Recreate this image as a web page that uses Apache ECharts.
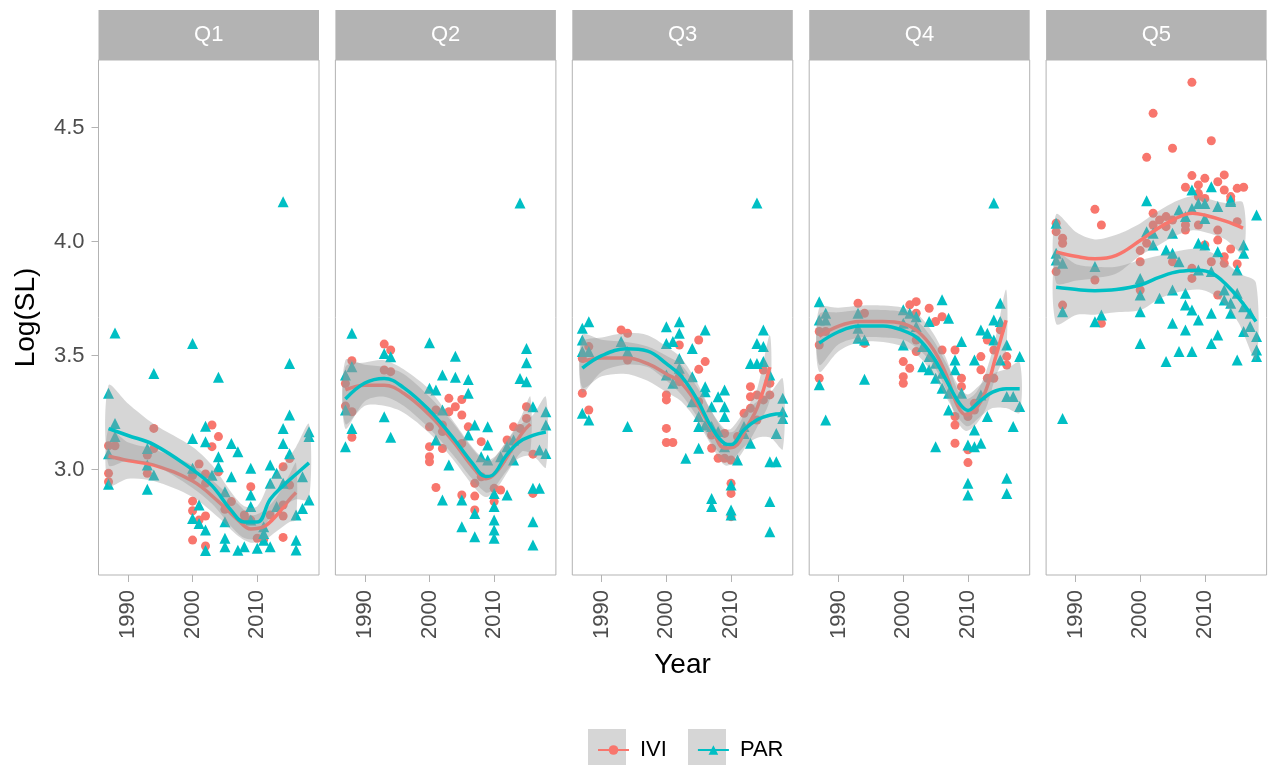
<!DOCTYPE html>
<html>
<head>
<meta charset="utf-8">
<title>Log(SL) by Year</title>
<script src="https://cdn.jsdelivr.net/npm/echarts@6.0.0/dist/echarts.min.js"></script>
<style>
  html, body { margin: 0; padding: 0; background: #fff; }
  #chart { width: 1270px; height: 765px; }
</style>
</head>
<body>
<div id="chart"></div>
<script>
const panels = ['Q1', 'Q2', 'Q3', 'Q4', 'Q5'];
const xTicks = [1990, 2000, 2010];
const yTicks = [3.0, 3.5, 4.0, 4.5];

// observed points: [year, Log(SL)]
const iviQ1 = [[1987,3.105],[1988,3.105],[1987,2.984],[1987,2.947],[1994,3.181],[1994,3.093],[1993,3.064],[1993,2.984],
  [2003,3.196],[2004,3.145],[2003,3.101],[2001,3.025],[2000,2.974],[2002,2.981],[2002,2.94],[2004,2.991],
  [2000,2.862],[2000,2.82],[2002,2.797],[2001,2.779],[2000,2.691],[2002,2.665],[2006,2.86],[2005,2.826],
  [2008,2.801],[2009,2.925],[2010,2.699],[2011,2.694],[2012,2.801],[2014,3.013],[2015,3.049],[2015,2.933],
  [2014,2.845],[2014,2.797],[2014,2.703],[2009,2.779],[2008,2.779]];
const parQ1 = [[1988,3.60],[1987,3.335],[1988,3.203],[1988,3.145],[1987,3.07],[1987,2.936],[1994,3.422],[1993,3.093],
  [1993,3.02],[1994,2.977],[1993,2.914],[2000,3.554],[2004,3.405],[2002,3.191],[2002,3.123],[2000,3.137],[2000,3.006],
  [2004,3.057],[2004,3.013],[2003,2.976],[2006,3.115],[2007,3.079],[2006,2.969],[2001,2.845],[2000,2.786],[2001,2.764],
  [2002,2.735],[2005,2.903],[2005,2.772],[2005,2.699],[2005,2.662],[2002,2.645],[2007,2.647],[2008,2.662],[2009,3.006],
  [2009,2.889],[2009,2.838],[2009,2.779],[2010,2.655],[2011,2.72],[2011,2.75],[2012,3.02],[2012,2.94],[2013,2.984],
  [2013,2.838],[2012,2.662],[2014,3.181],[2014,3.115],[2015,3.24],[2015,3.466],[2015,3.07],[2016,2.801],[2016,2.69],
  [2016,2.648],[2017,2.969],[2017,2.83],[2018,3.166],[2018,3.145],[2018,2.867],[2014,2.94],[2014,4.175],[2011,2.69]];

const iviQ2 = [[1988,3.478],[1987,3.378],[1987,3.279],[1988,3.254],[1988,3.142],[1993,3.551],[1994,3.525],[1993,3.437],
  [1994,3.43],[2003,3.313],[2005,3.308],[2004,3.276],[2001,3.262],[2003,3.254],[2005,3.24],[2000,3.188],[2002,3.196],
  [2002,3.167],[2000,3.101],[2000,3.057],[2000,3.035],[2002,3.093],[2001,2.922],[2006,3.188],[2005,3.115],[2008,3.123],
  [2007,2.94],[2008,2.969],[2005,2.889],[2007,2.884],[2007,2.823],[2010,2.918],[2011,2.911],[2010,2.86],[2013,3.188],
  [2014,3.181],[2015,3.276],[2015,3.225],[2016,3.068],[2016,2.896],[2012,3.13]];
const parQ2 = [[1988,3.598],[1987,3.415],[1988,3.452],[1987,3.262],[1987,3.101],[1988,3.181],[1993,3.51],[1994,3.495],
  [1993,3.232],[1994,3.142],[2000,3.557],[2000,3.357],[2002,3.415],[2004,3.498],[2004,3.405],[2006,3.396],[2006,3.335],
  [2001,3.349],[2002,3.262],[2001,3.13],[2003,3.02],[2002,2.867],[2005,2.867],[2005,2.75],[2007,3.196],[2009,3.188],
  [2006,3.152],[2007,2.808],[2007,2.706],[2009,3.108],[2008,3.057],[2009,3.042],[2010,2.896],[2010,2.838],[2010,2.779],
  [2010,2.735],[2010,2.699],[2012,2.889],[2011,3.057],[2013,3.13],[2015,3.532],[2015,3.469],[2014,3.4],[2015,3.386],
  [2016,3.276],[2018,3.254],[2018,3.196],[2017,3.086],[2018,3.071],[2016,2.918],[2017,2.918],[2016,2.772],[2016,2.67],
  [2013,3.042],[2012,3.101],[2014,4.17]];

const iviQ3 = [[1987,3.488],[1988,3.54],[1987,3.335],[1988,3.262],[1993,3.613],[1994,3.598],[1994,3.481],[2002,3.547],
  [2000,3.328],[2000,3.306],[2000,3.181],[2000,3.119],[2001,3.119],[2002,3.386],[2002,3.408],[2005,3.569],[2006,3.474],
  [2005,3.44],[2005,3.298],[2007,3.152],[2007,3.094],[2009,3.159],[2008,3.05],[2009,3.05],[2010,3.042],[2010,2.94],
  [2010,2.896],[2010,2.794],[2011,3.145],[2012,3.247],[2013,3.364],[2013,3.32],[2014,3.328],[2015,3.437],[2015,3.306],
  [2016,3.379],[2016,3.328],[2013,3.269],[2014,3.218]];
const parQ3 = [[1988,3.649],[1987,3.62],[1987,3.569],[1987,3.518],[1988,3.518],[1987,3.247],[1988,3.218],[1993,3.562],
  [1994,3.518],[1994,3.189],[2000,3.627],[2002,3.649],[2002,3.598],[2000,3.554],[2001,3.562],[2002,3.488],[2004,3.532],
  [2006,3.613],[2000,3.415],[2001,3.379],[2002,3.445],[2004,3.408],[2006,3.364],[2006,3.342],[2008,3.32],[2009,3.35],
  [2007,3.276],[2009,3.276],[2004,3.298],[2005,3.233],[2005,3.189],[2006,3.196],[2009,3.233],[2008,3.167],[2007,3.189],
  [2005,3.094],[2003,3.05],[2009,3.101],[2011,3.042],[2012,3.159],[2007,2.874],[2007,2.838],[2010,2.933],[2010,2.823],
  [2010,2.801],[2014,3.554],[2015,3.613],[2015,3.54],[2013,3.466],[2014,3.466],[2015,3.474],[2016,3.415],[2018,3.313],
  [2018,3.254],[2018,3.225],[2017,3.159],[2016,3.035],[2017,3.035],[2016,2.86],[2016,2.728],[2014,4.17],[2013,3.116],
  [2012,3.189]];

const iviQ4 = [[1987,3.606],[1988,3.606],[1987,3.547],[1987,3.401],[1993,3.73],[1994,3.686],[1994,3.554],[2001,3.723],
  [2002,3.737],[2002,3.686],[2004,3.708],[2005,3.65],[2006,3.671],[2000,3.474],[2001,3.445],[2000,3.408],[2000,3.379],
  [2002,3.518],[2002,3.569],[2006,3.525],[2008,3.525],[2009,3.401],[2009,3.364],[2008,3.233],[2008,3.196],[2008,3.116],
  [2010,3.087],[2010,3.031],[2011,3.291],[2012,3.496],[2012,3.438],[2013,3.569],[2014,3.525],[2015,3.613],[2016,3.496],
  [2016,3.459],[2013,3.401],[2014,3.401],[2011,3.262],[2010,3.233]];
const parQ4 = [[1987,3.737],[1988,3.686],[1987,3.657],[1988,3.657],[1987,3.372],[1988,3.218],[1993,3.686],[1993,3.62],
  [1993,3.576],[1994,3.569],[1994,3.397],[2000,3.701],[2001,3.686],[2002,3.671],[2000,3.642],[2002,3.628],[2000,3.547],
  [2004,3.65],[2006,3.745],[2007,3.664],[2003,3.54],[2004,3.496],[2005,3.467],[2006,3.423],[2003,3.452],[2004,3.438],
  [2005,3.401],[2006,3.357],[2008,3.481],[2009,3.562],[2008,3.438],[2007,3.335],[2009,3.335],[2007,3.262],[2005,3.101],
  [2010,3.108],[2010,2.94],[2010,2.889],[2011,3.174],[2012,3.116],[2011,3.101],[2013,3.233],[2011,3.481],[2012,3.613],
  [2013,3.598],[2014,3.657],[2015,3.73],[2015,3.65],[2014,3.569],[2015,3.481],[2016,3.547],[2018,3.496],[2017,3.321],
  [2016,3.321],[2018,3.277],[2017,3.189],[2012,3.328],[2016,2.962],[2016,2.896],[2014,4.17]];

const iviQ5 = [[2008,4.699],[2002,4.563],[2011,4.443],[2005,4.41],[2001,4.37],[1993,4.142],[1994,4.073],[1987,4.081],
  [1987,4.044],[1988,4.015],[1988,3.993],[1987,3.869],[1988,3.722],[1993,3.832],[1994,3.642],[2002,4.125],[2003,4.095],
  [2004,4.11],[2005,4.095],[2004,4.066],[2002,4.073],[2001,3.993],[2000,3.961],[2000,3.912],[2000,3.788],[2005,3.912],
  [2007,4.239],[2008,4.29],[2009,4.249],[2010,4.278],[2009,4.212],[2010,4.19],[2012,4.263],[2013,4.293],[2013,4.227],
  [2014,4.198],[2015,4.234],[2016,4.239],[2007,4.051],[2009,4.073],[2012,4.051],[2012,4.007],[2010,3.986],[2014,3.968],
  [2013,3.934],[2013,3.905],[2011,3.912],[2008,3.883],[2008,3.839],[2015,3.902],[2015,4.088],[2012,3.766],[2007,4.073],
  [2009,4.198],[2014,4.183]];
const parQ5 = [[1987,4.081],[1987,3.949],[1987,3.92],[1988,3.905],[1988,3.693],[1988,3.225],[1993,3.891],[1993,3.649],
  [1994,3.678],[2001,4.18],[2001,4.044],[2002,4.037],[2002,3.986],[2000,3.839],[2000,3.766],[2000,3.693],[2000,3.554],
  [2003,3.752],[2004,3.964],[2005,4.037],[2005,3.949],[2006,4.139],[2006,3.912],[2007,4.11],[2008,4.227],[2008,4.146],
  [2009,4.168],[2010,4.168],[2010,4.102],[2011,4.241],[2012,4.154],[2014,4.183],[2009,3.993],[2010,3.986],[2012,3.956],
  [2009,3.876],[2011,3.869],[2007,3.774],[2007,3.722],[2008,3.7],[2005,3.788],[2005,3.642],[2006,3.518],[2008,3.518],
  [2007,3.613],[2004,3.474],[2009,3.657],[2011,3.686],[2012,3.591],[2011,3.554],[2013,3.788],[2013,3.744],[2014,3.73],
  [2014,3.686],[2015,3.774],[2016,3.715],[2016,3.606],[2017,3.628],[2017,3.686],[2018,3.584],[2018,3.525],[2018,3.496],
  [2015,3.481],[2018,4.117],[2016,3.986],[2016,3.949],[2015,3.876],[2014,4.176]];

// smoothed fits: [year, fit, lower, upper]
const iviFitQ1 = [[1987,3.06,2.93,3.18],[1990,3.04,2.96,3.12],[1994,3.02,2.95,3.09],[2000,2.95,2.88,3.02],[2004,2.86,2.79,2.93],
  [2007,2.78,2.71,2.85],[2009,2.74,2.68,2.80],[2011,2.75,2.69,2.82],[2013,2.80,2.73,2.88],[2015,2.87,2.77,2.98],[2016,2.90,2.78,3.03]];
const parFitQ1 = [[1987,3.18,3.02,3.37],[1990,3.15,3.04,3.29],[1994,3.11,3.02,3.20],[2000,3.00,2.92,3.10],[2003,2.93,2.85,3.02],
  [2006,2.82,2.75,2.90],[2008,2.77,2.70,2.84],[2010,2.77,2.70,2.84],[2012,2.87,2.79,2.95],[2014,2.93,2.84,3.02],[2016,2.98,2.87,3.10],[2018,3.03,2.87,3.20]];

const iviFitQ2 = [[1987,3.35,3.20,3.48],[1990,3.37,3.28,3.46],[1993,3.37,3.28,3.45],[1996,3.335,3.25,3.42],[2000,3.24,3.16,3.32],
  [2003.5,3.13,3.05,3.21],[2007,3.0,2.92,3.08],[2008.7,2.96,2.88,3.04],[2010.2,2.985,2.91,3.06],[2012.3,3.07,3.0,3.14],
  [2014.3,3.16,3.08,3.24],[2015.6,3.20,3.08,3.32]];
const parFitQ2 = [[1987,3.31,3.18,3.45],[1990,3.38,3.30,3.47],[1993,3.40,3.32,3.48],[1996,3.36,3.28,3.44],[2000,3.26,3.18,3.35],
  [2003.5,3.145,3.07,3.22],[2006.6,3.03,2.96,3.10],[2008.7,2.97,2.90,3.04],[2009.7,2.975,2.91,3.04],[2011.8,3.06,2.99,3.12],
  [2013.8,3.12,3.05,3.19],[2016,3.15,3.06,3.24],[2018,3.165,3.01,3.32]];

const iviFitQ3 = [[1987,3.475,3.36,3.59],[1990,3.49,3.41,3.57],[1993.8,3.49,3.42,3.56],[1997.1,3.465,3.39,3.54],[2000,3.42,3.34,3.50],
  [2002.3,3.38,3.30,3.46],[2004.8,3.285,3.21,3.36],[2007.1,3.175,3.10,3.25],[2009,3.095,3.02,3.17],[2010.5,3.10,3.03,3.17],
  [2012.5,3.19,3.11,3.27],[2014.1,3.275,3.19,3.36],[2016,3.45,3.31,3.59]];
const parFitQ3 = [[1987,3.445,3.34,3.56],[1990,3.50,3.43,3.58],[1993.8,3.53,3.46,3.60],[1997.1,3.52,3.45,3.59],[2000,3.465,3.39,3.54],
  [2002.3,3.41,3.33,3.49],[2004.8,3.305,3.23,3.38],[2006.9,3.19,3.12,3.26],[2009,3.115,3.05,3.18],[2010,3.11,3.04,3.18],
  [2012,3.175,3.10,3.25],[2014.1,3.22,3.14,3.30],[2016.1,3.24,3.14,3.34],[2018,3.245,3.09,3.40]];

const iviFitQ4 = [[1987,3.585,3.46,3.71],[1990,3.63,3.55,3.71],[1993.3,3.65,3.58,3.72],[1996.9,3.65,3.58,3.72],[2000,3.64,3.57,3.71],
  [2002.3,3.605,3.53,3.68],[2004.6,3.53,3.46,3.60],[2006.6,3.42,3.35,3.49],[2008.4,3.28,3.21,3.35],[2009.7,3.24,3.17,3.31],
  [2011.3,3.27,3.20,3.34],[2012.8,3.35,3.27,3.43],[2014.3,3.495,3.41,3.58],[2015.9,3.655,3.52,3.79]];
const parFitQ4 = [[1987,3.555,3.43,3.68],[1990,3.605,3.52,3.69],[1993.3,3.63,3.56,3.70],[1996.9,3.63,3.56,3.70],[2000,3.61,3.54,3.69],
  [2002.3,3.575,3.50,3.65],[2004.6,3.495,3.42,3.57],[2006.6,3.395,3.32,3.47],[2008.7,3.29,3.22,3.36],[2010,3.26,3.19,3.33],
  [2011.8,3.30,3.23,3.37],[2013.8,3.34,3.27,3.42],[2015.9,3.355,3.27,3.44],[2018,3.355,3.25,3.47]];

const iviFitQ5 = [[1987,3.955,3.82,4.12],[1990.2,3.935,3.83,4.04],[1993,3.925,3.84,4.01],[1996.3,3.94,3.86,4.03],[2000,4.005,3.94,4.08],
  [2002,4.045,3.97,4.12],[2005,4.095,4.02,4.17],[2008.1,4.125,4.05,4.20],[2010.2,4.115,4.04,4.19],[2013.2,4.09,4.01,4.17],[2015.9,4.06,3.95,4.17]];
const parFitQ5 = [[1987,3.80,3.64,3.95],[1990.2,3.79,3.68,3.90],[1993,3.785,3.68,3.89],[1996.3,3.79,3.69,3.89],[2000,3.81,3.70,3.92],
  [2003,3.845,3.75,3.94],[2006.1,3.87,3.78,3.96],[2009.1,3.875,3.79,3.97],[2011.2,3.86,3.77,3.95],[2013.2,3.815,3.72,3.91],
  [2015.3,3.75,3.64,3.86],[2017.9,3.65,3.48,3.82]];

const iviPoints = [iviQ1, iviQ2, iviQ3, iviQ4, iviQ5];
const parPoints = [parQ1, parQ2, parQ3, parQ4, parQ5];
const iviFits = [iviFitQ1, iviFitQ2, iviFitQ3, iviFitQ4, iviFitQ5];
const parFits = [parFitQ1, parFitQ2, parFitQ3, parFitQ4, parFitQ5];

const RED = '#F8766D';
const TEAL = '#00BFC4';
const BAND = 'rgba(153,153,153,0.4)';
const FONT = 'Liberation Sans, Arial, sans-serif';

const panelLeft = 98.5;
const panelStep = 236.9;
const panelWidth = 220.5;
const panelTop = 60;
const panelHeight = 515;

const myChart = echarts.init(document.getElementById('chart'));

const bandSeries = (rows, idx, name, z) => ({
  type: 'custom',
  name: name,
  xAxisIndex: idx,
  yAxisIndex: idx,
  z: z,
  silent: true,
  data: rows,
  renderItem: (params, api) => {
    if (params.dataIndex !== 0) return;
    const upper = rows.map((r) => api.coord([r[0], r[3]]));
    const lower = rows.map((r) => api.coord([r[0], r[2]])).reverse();
    return {
      type: 'polygon',
      shape: { points: upper.concat(lower), smooth: 0.3 },
      style: { fill: BAND },
    };
  },
});

const lineSeries = (rows, idx, name, color, symbol, z) => ({
  type: 'line',
  name: name,
  xAxisIndex: idx,
  yAxisIndex: idx,
  z: z,
  silent: true,
  smooth: 0.4,
  symbol: symbol,
  showSymbol: false,
  data: rows.map((r) => [r[0], r[1]]),
  lineStyle: { width: 3.5, color: color },
  itemStyle: { color: color },
});

const pointSeries = (rows, idx, name, color, symbol, size) => ({
  type: 'scatter',
  name: name,
  xAxisIndex: idx,
  yAxisIndex: idx,
  z: 2,
  silent: true,
  symbol: symbol,
  symbolSize: size,
  data: rows,
  itemStyle: { color: color, opacity: 1 },
});

const grids = [];
const xAxes = [];
const yAxes = [];
const series = [];
const graphics = [];

panels.forEach((p, i) => {
  const left = panelLeft + i * panelStep;
  grids.push({
    left: left,
    top: panelTop,
    width: panelWidth,
    height: panelHeight,
    show: true,
    backgroundColor: '#fff',
    borderColor: '#b3b3b3',
    borderWidth: 1,
  });
  xAxes.push({
    type: 'value',
    gridIndex: i,
    min: 1985.45,
    max: 2019.55,
    name: i === 2 ? 'Year' : '',
    nameLocation: 'middle',
    nameGap: 76,
    nameTextStyle: { fontSize: 28, color: '#000', fontFamily: FONT },
    splitLine: { show: false },
    axisLine: { show: false },
    axisTick: { show: true, length: 7, customValues: xTicks, lineStyle: { color: '#b3b3b3', width: 1 } },
    axisLabel: {
      customValues: xTicks,
      rotate: 90,
      margin: 15,
      fontSize: 22,
      color: '#4d4d4d',
      fontFamily: FONT,
      formatter: (v) => String(v),
    },
  });
  yAxes.push({
    type: 'value',
    gridIndex: i,
    min: 2.538,
    max: 4.797,
    name: i === 0 ? 'Log(SL)' : '',
    nameLocation: 'middle',
    nameGap: 58,
    nameRotate: 90,
    nameTextStyle: { fontSize: 28, color: '#000', fontFamily: FONT },
    splitLine: { show: false },
    axisLine: { show: false },
    axisTick: { show: i === 0, length: 7, customValues: yTicks, lineStyle: { color: '#b3b3b3', width: 1 } },
    axisLabel: {
      show: i === 0,
      customValues: yTicks,
      margin: 14,
      fontSize: 22,
      color: '#4d4d4d',
      fontFamily: FONT,
      formatter: (v) => v.toFixed(1),
    },
  });

  series.push(lineSeries(iviFits[i], i, 'IVI', RED, 'circle', 4));
  series.push(lineSeries(parFits[i], i, 'PAR', TEAL, 'triangle', 6));
  series.push(pointSeries(iviPoints[i], i, 'IVI', RED, 'circle', 9));
  series.push(pointSeries(parPoints[i], i, 'PAR', TEAL, 'triangle', 11));
  series.push(bandSeries(iviFits[i], i, 'IVI', 3));
  series.push(bandSeries(parFits[i], i, 'PAR', 5));

  // facet strip
  graphics.push({
    type: 'rect',
    shape: { x: left, y: 10, width: panelWidth, height: 50 },
    style: { fill: '#b3b3b3' },
    silent: true,
  });
  graphics.push({
    type: 'text',
    style: {
      text: p,
      x: left + panelWidth / 2,
      y: 35,
      align: 'center',
      verticalAlign: 'middle',
      fill: '#ffffff',
      fontSize: 22,
      fontFamily: FONT,
    },
    silent: true,
  });
});

// grey legend key backgrounds
[588, 688].forEach((x) => {
  graphics.push({
    type: 'rect',
    z: -1,
    shape: { x: x, y: 729, width: 38, height: 38 },
    style: { fill: '#d6d6d6' },
    silent: true,
  });
});

const option = {
  backgroundColor: '#ffffff',
  animation: false,
  grid: grids,
  xAxis: xAxes,
  yAxis: yAxes,
  legend: {
    data: ['IVI', 'PAR'],
    left: 592,
    top: 734,
    itemWidth: 31,
    itemHeight: 12,
    itemGap: 30,
    selectedMode: false,
    textStyle: { fontSize: 22, color: '#000', fontFamily: FONT, padding: [0, 0, 0, 6] },
  },
  graphic: graphics,
  series: series,
};

myChart.setOption(option);
window.addEventListener('resize', () => myChart.resize());
</script>
</body>
</html>
